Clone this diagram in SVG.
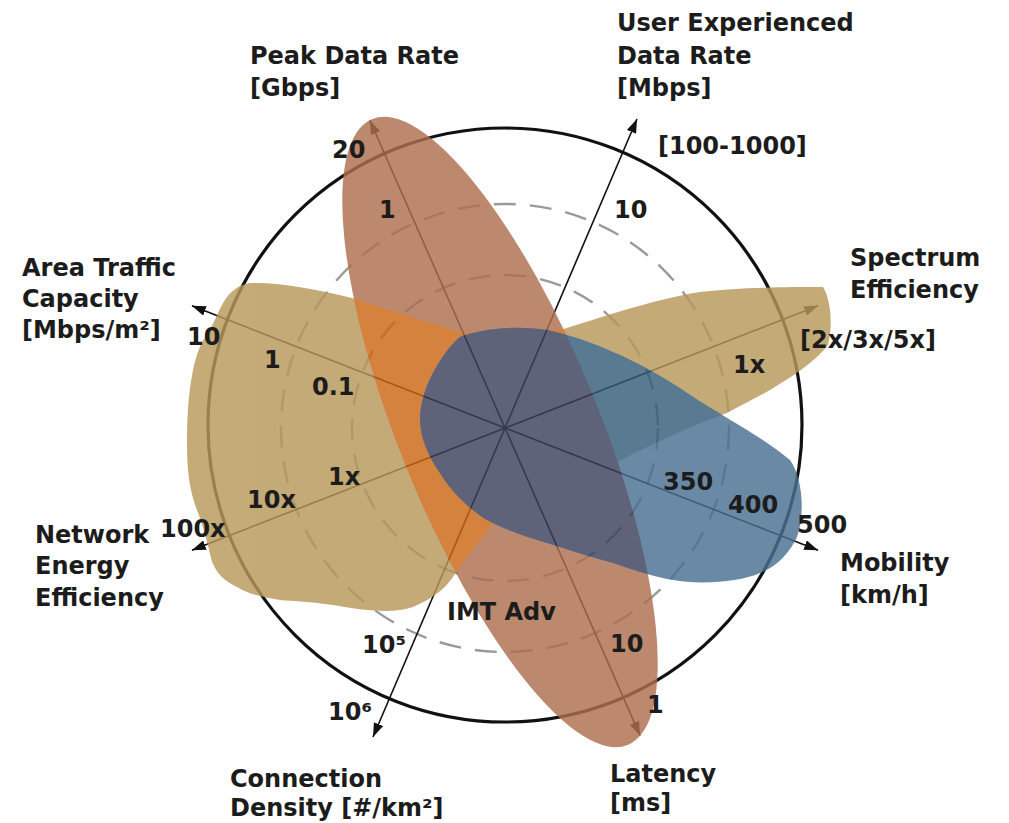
<svg xmlns="http://www.w3.org/2000/svg" width="1009" height="823" viewBox="0 0 1009 823">
  <style>
    .lbl { font-family: "DejaVu Sans", "Liberation Sans", sans-serif; font-weight: bold; font-size: 24px; fill: #1c1c1c; }
    .axis { stroke: #111; stroke-width: 1.6; fill: none; marker-start: url(#tip); marker-end: url(#tip); }
    .ring { fill: none; stroke: #111; stroke-width: 3.2; }
    .dash { fill: none; stroke: #9a9a9a; stroke-width: 2.4; stroke-dasharray: 22 14; }
  </style>
  <defs>
    <marker id="tip" viewBox="0 0 14 10" refX="14" refY="5" markerWidth="14" markerHeight="10" markerUnits="userSpaceOnUse" orient="auto-start-reverse">
      <path d="M0,0 L14,5 L0,10 Z" fill="#111"/>
    </marker>
    <!-- outline of the IMT-2020 (tan) footprint -->
    <path id="tanShape" d="M250,283 C280,282 320,290 352,298 L462,333 C500,331 535,330 560,330 C600,318 650,300 700,292 C740,287 790,287 823,287 C831,300 833,325 828,345 C815,362 790,378 770,390 C752,400 738,407 727,413 C680,430 640,450 605,468 C565,488 515,508 490,527 L457,570 C450,584 437,597 413,607 C395,613 370,612 333,605 C310,602 295,601 280,600 C262,597 248,594 237,587 C222,580 214,570 211,558 C208,545 204,528 197,510 C190,492 187,472 187,445 C187,420 188,395 193,370 C197,352 202,340 207,335 C213,325 218,312 222,305 C228,294 236,285 250,283 Z"/>
    <!-- latency / peak-rate (brown) ellipse -->
    <ellipse id="brownShape" cx="500" cy="432" rx="338" ry="100" transform="rotate(67.8 500 432)"/>
    <!-- IMT-Advanced (blue) footprint -->
    <path id="blueShape" d="M460,337 C480,329 513,325 547,330 C585,338 640,360 690,395 C720,415 760,435 790,460 C803,478 805,515 797,537 C790,552 778,566 760,573 C740,582 700,585 673,580 C655,577 630,569 613,563 C590,557 570,550 547,543 C530,538 505,530 487,520 C470,510 450,490 440,473 C428,455 421,440 420,420 C420,405 425,388 433,373 C440,360 450,345 460,337 Z"/>
    <clipPath id="clipTan"><use href="#tanShape"/></clipPath>
    <clipPath id="clipBrown"><use href="#brownShape"/></clipPath>
  </defs>

  <!-- reference rings and axes -->
  <g id="grid">
    <circle class="dash" cx="505" cy="428" r="224"/>
    <circle class="dash" cx="505" cy="428" r="153"/>
    <circle class="ring" cx="505" cy="425" r="297"/>
  </g>
  <g id="connectors">
    <line class="axis" x1="369.9" y1="120.4" x2="640.1" y2="735.6"/>
    <line class="axis" x1="637" y1="119" x2="373" y2="737"/>
    <line class="axis" x1="191.9" y1="305.8" x2="818.1" y2="550.2"/>
    <line class="axis" x1="818.1" y1="305.8" x2="191.9" y2="550.2"/>
  </g>

  <!-- capability footprints, drawn semi-opaque so the grid shows through -->
  <g id="footprints" opacity="0.82">
    <g id="imt2020-tan"><use href="#tanShape" fill="#b7985a"/></g>
    <g id="imt2020-brown"><use href="#brownShape" fill="#ae704f"/></g>
    <g id="overlap-orange"><use href="#brownShape" fill="#cd6715" clip-path="url(#clipTan)"/></g>
    <g id="imt-adv-blue">
      <use href="#blueShape" fill="#497091"/>
      <use href="#blueShape" fill="#365d7b" clip-path="url(#clipTan)"/>
      <use href="#blueShape" fill="#3c425c" clip-path="url(#clipBrown)"/>
    </g>
  </g>

  <!-- axis titles -->
  <g id="node-peak"><text class="lbl" x="250" y="64">Peak Data Rate</text><text class="lbl" x="250" y="96">[Gbps]</text></g>
  <g id="node-user"><text class="lbl" x="617" y="31">User Experienced</text><text class="lbl" x="617" y="64">Data Rate</text><text class="lbl" x="617" y="96">[Mbps]</text><text class="lbl" x="658" y="154">[100-1000]</text></g>
  <g id="node-spectrum"><text class="lbl" x="850" y="266">Spectrum</text><text class="lbl" x="850" y="298">Efficiency</text><text class="lbl" x="800" y="348">[2x/3x/5x]</text></g>
  <g id="node-area"><text class="lbl" x="22" y="276">Area Traffic</text><text class="lbl" x="22" y="307">Capacity</text><text class="lbl" x="22" y="338">[Mbps/m²]</text></g>
  <g id="node-energy"><text class="lbl" x="35" y="543">Network</text><text class="lbl" x="35" y="574">Energy</text><text class="lbl" x="35" y="606">Efficiency</text></g>
  <g id="node-density"><text class="lbl" x="230" y="787">Connection</text><text class="lbl" x="230" y="816">Density [#/km²]</text></g>
  <g id="node-latency"><text class="lbl" x="610" y="782">Latency</text><text class="lbl" x="610" y="811">[ms]</text></g>
  <g id="node-mobility"><text class="lbl" x="840" y="571">Mobility</text><text class="lbl" x="840" y="603">[km/h]</text></g>

  <!-- scale values -->
  <g id="ticks">
    <text class="lbl" x="332" y="158">20</text>
    <text class="lbl" x="379" y="218">1</text>
    <text class="lbl" x="614" y="218">10</text>
    <text class="lbl" x="733" y="373">1x</text>
    <text class="lbl" x="187" y="345">10</text>
    <text class="lbl" x="264" y="368">1</text>
    <text class="lbl" x="312" y="395">0.1</text>
    <text class="lbl" x="328" y="485">1x</text>
    <text class="lbl" x="247" y="508">10x</text>
    <text class="lbl" x="160" y="537">100x</text>
    <text class="lbl" x="362" y="653">10⁵</text>
    <text class="lbl" x="328" y="720">10⁶</text>
    <text class="lbl" x="447" y="620">IMT Adv</text>
    <text class="lbl" x="610" y="652">10</text>
    <text class="lbl" x="647" y="713">1</text>
    <text class="lbl" x="663" y="490">350</text>
    <text class="lbl" x="728" y="513">400</text>
    <text class="lbl" x="797" y="533">500</text>
  </g>
</svg>
